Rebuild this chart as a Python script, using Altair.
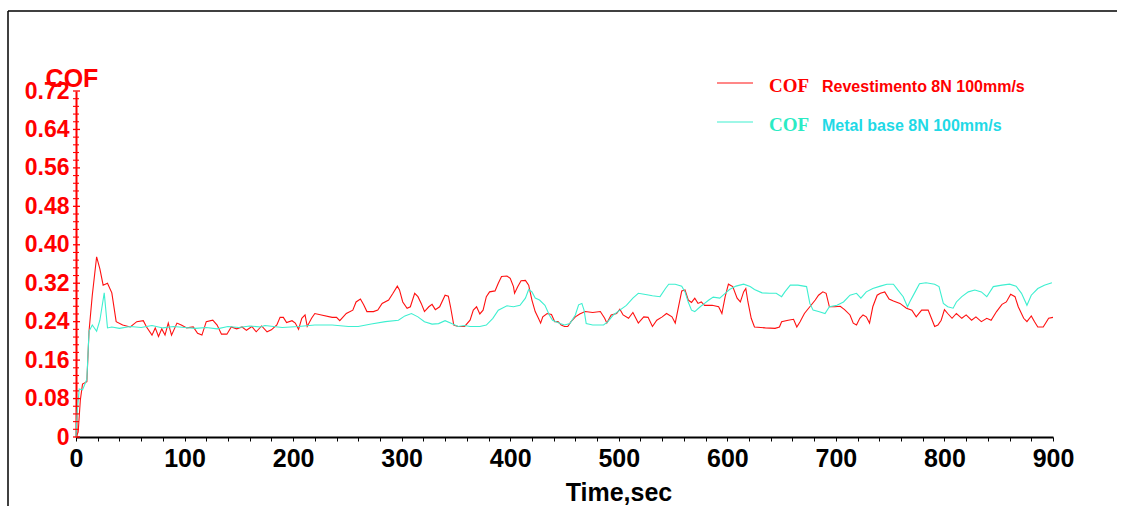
import altair as alt
import pandas as pd

# ---- data (time in s, COF) ----
red_points = [
    (0, 0.0), (2, 0.01), (4, 0.077), (6, 0.11), (10, 0.115), (12, 0.22), (15, 0.295), (19, 0.375),
    (22, 0.35), (25, 0.316), (29, 0.32), (33, 0.30), (37, 0.24), (43, 0.233), (50, 0.229), (56, 0.24),
    (62, 0.242), (65, 0.229), (70, 0.212), (73, 0.227), (76, 0.209), (79, 0.225), (82, 0.212), (85, 0.237),
    (88, 0.212), (93, 0.237), (97, 0.233), (102, 0.227), (108, 0.229), (112, 0.216), (116, 0.212), (120, 0.24),
    (126, 0.243), (130, 0.233), (134, 0.214), (139, 0.214), (143, 0.229), (148, 0.225), (153, 0.229), (157, 0.222),
    (162, 0.23), (166, 0.219), (171, 0.231), (176, 0.219), (180, 0.223), (185, 0.233), (188, 0.249), (191, 0.249),
    (194, 0.238), (199, 0.242), (202, 0.237), (205, 0.224), (208, 0.247), (211, 0.254), (213, 0.23), (217, 0.247),
    (220, 0.257), (226, 0.254), (236, 0.249), (240, 0.249), (243, 0.242), (249, 0.257), (255, 0.264), (258, 0.281),
    (262, 0.287), (265, 0.275), (268, 0.261), (274, 0.261), (278, 0.264), (282, 0.278), (288, 0.285), (292, 0.299),
    (296, 0.314), (298, 0.306), (301, 0.281), (305, 0.268), (308, 0.271), (312, 0.299), (315, 0.292), (318, 0.278),
    (321, 0.261), (325, 0.271), (328, 0.276), (331, 0.265), (335, 0.271), (340, 0.295), (343, 0.293), (345, 0.271),
    (348, 0.233), (352, 0.23), (358, 0.23), (363, 0.243), (366, 0.264), (369, 0.271), (372, 0.256), (375, 0.264),
    (378, 0.292), (381, 0.302), (386, 0.304), (389, 0.32), (392, 0.334), (397, 0.335), (400, 0.33), (403, 0.313),
    (404, 0.299), (407, 0.313), (410, 0.325), (414, 0.326), (417, 0.316), (420, 0.285), (423, 0.261), (426, 0.247),
    (428, 0.237), (430, 0.25), (434, 0.257), (438, 0.255), (441, 0.24), (444, 0.24), (447, 0.233), (450, 0.23),
    (453, 0.23), (456, 0.24), (460, 0.25), (464, 0.256), (469, 0.261), (476, 0.259), (483, 0.261), (487, 0.247),
    (489, 0.237), (493, 0.254), (498, 0.257), (501, 0.266), (504, 0.254), (509, 0.247), (513, 0.259), (518, 0.237),
    (523, 0.25), (527, 0.249), (531, 0.23), (535, 0.243), (540, 0.25), (544, 0.257), (549, 0.25), (552, 0.237),
    (555, 0.271), (558, 0.304), (561, 0.306), (564, 0.285), (567, 0.28), (570, 0.289), (573, 0.278), (576, 0.281),
    (579, 0.274), (586, 0.274), (592, 0.271), (595, 0.257), (598, 0.292), (601, 0.318), (605, 0.313), (609, 0.289),
    (612, 0.281), (615, 0.302), (617, 0.309), (619, 0.281), (622, 0.247), (625, 0.229), (635, 0.227), (644, 0.226),
    (648, 0.229), (650, 0.24), (656, 0.243), (661, 0.245), (664, 0.229), (667, 0.24), (671, 0.257), (676, 0.271),
    (681, 0.285), (684, 0.295), (688, 0.302), (691, 0.299), (694, 0.271), (699, 0.271), (704, 0.272), (708, 0.265),
    (713, 0.254), (716, 0.237), (719, 0.233), (722, 0.247), (725, 0.254), (728, 0.25), (731, 0.237), (734, 0.271),
    (738, 0.295), (741, 0.299), (745, 0.302), (749, 0.287), (753, 0.283), (759, 0.278), (765, 0.268), (770, 0.264),
    (774, 0.25), (779, 0.264), (785, 0.264), (788, 0.247), (791, 0.23), (794, 0.233), (797, 0.243), (800, 0.265),
    (803, 0.257), (807, 0.247), (811, 0.257), (816, 0.247), (820, 0.254), (825, 0.243), (829, 0.25), (834, 0.24),
    (839, 0.247), (843, 0.243), (848, 0.261), (853, 0.276), (857, 0.281), (861, 0.297), (865, 0.292), (868, 0.271),
    (873, 0.247), (876, 0.24), (880, 0.252), (883, 0.24), (886, 0.229), (891, 0.229), (896, 0.247), (900, 0.249),
]

cyan_points = [
    (0, 0.0), (1, 0.05), (3, 0.10), (6, 0.098), (10, 0.12), (12, 0.22), (15, 0.233), (19, 0.22),
    (22, 0.243), (26, 0.30), (29, 0.227), (33, 0.229), (40, 0.226), (50, 0.23), (60, 0.228), (70, 0.232),
    (80, 0.227), (90, 0.23), (100, 0.228), (110, 0.226), (120, 0.228), (130, 0.225), (140, 0.23), (150, 0.228),
    (160, 0.231), (170, 0.229), (174, 0.232), (190, 0.228), (205, 0.23), (220, 0.233), (236, 0.233), (251, 0.23),
    (260, 0.23), (272, 0.235), (285, 0.24), (297, 0.243), (303, 0.252), (309, 0.257), (315, 0.25), (321, 0.24),
    (328, 0.235), (334, 0.236), (340, 0.242), (346, 0.236), (352, 0.23), (358, 0.232), (363, 0.23), (372, 0.23),
    (378, 0.233), (384, 0.247), (389, 0.264), (397, 0.273), (403, 0.271), (409, 0.274), (414, 0.289), (417, 0.307),
    (420, 0.302), (423, 0.289), (427, 0.285), (432, 0.274), (436, 0.254), (439, 0.243), (446, 0.236), (450, 0.233),
    (455, 0.236), (460, 0.254), (463, 0.275), (466, 0.278), (468, 0.264), (470, 0.236), (476, 0.233), (486, 0.233),
    (490, 0.24), (495, 0.254), (501, 0.264), (507, 0.274), (513, 0.289), (518, 0.299), (526, 0.296), (531, 0.294),
    (538, 0.292), (543, 0.309), (546, 0.318), (552, 0.318), (558, 0.314), (561, 0.302), (564, 0.281), (567, 0.264),
    (570, 0.261), (575, 0.271), (579, 0.278), (583, 0.285), (587, 0.291), (593, 0.289), (598, 0.299), (602, 0.307),
    (608, 0.314), (615, 0.318), (621, 0.313), (625, 0.307), (632, 0.30), (639, 0.299), (645, 0.299), (650, 0.292),
    (653, 0.302), (658, 0.316), (665, 0.316), (673, 0.313), (676, 0.278), (679, 0.264), (684, 0.261), (690, 0.257),
    (694, 0.271), (701, 0.274), (707, 0.281), (713, 0.295), (719, 0.299), (723, 0.289), (728, 0.302), (734, 0.309),
    (741, 0.314), (747, 0.318), (753, 0.318), (757, 0.306), (762, 0.292), (766, 0.271), (768, 0.281), (773, 0.302),
    (777, 0.319), (783, 0.321), (791, 0.318), (795, 0.313), (799, 0.278), (803, 0.271), (808, 0.268), (811, 0.281),
    (816, 0.292), (822, 0.302), (828, 0.306), (834, 0.302), (839, 0.292), (845, 0.313), (853, 0.316), (860, 0.318),
    (866, 0.314), (871, 0.299), (876, 0.274), (880, 0.295), (886, 0.309), (892, 0.316), (899, 0.321),
]

series_names = ["Revestimento 8N 100mm/s", "Metal base 8N 100mm/s"]
series_colors = ["#FF1010", "#3EEFD0"]
legend_text_colors = ["#FF0000", "#1FD9E6"]
legend_cof_colors = ["#FF0000", "#2AEBC4"]

x_tick_values = list(range(0, 901, 20))
y_major_values = [0, 0.08, 0.16, 0.24, 0.32, 0.40, 0.48, 0.56, 0.64, 0.72]
y_minor_values = [round(i * 0.016, 3) for i in range(46) if i % 5 != 0]

W, H = 977, 346
RED = "#FF0000"
SANS = "Liberation Sans"

# ---- tables ----
rows = []
for name, pts in zip(series_names, [red_points, cyan_points]):
    for t, v in pts:
        rows.append({"t": t, "cof": v, "series": name})
lines_df = pd.DataFrame(rows)

x_enc = alt.X(
    "t:Q",
    scale=alt.Scale(domain=[0, 900], nice=False, zero=True),
    axis=alt.Axis(
        values=x_tick_values,
        labelExpr="datum.value % 100 == 0 ? datum.label : ''",
        format="d",
        title="",
        grid=False,
        domainColor="black",
        domainWidth=2,
        tickColor="black",
        tickSize=4,
        tickWidth=1,
        labelColor="black",
        labelFont=SANS,
        labelFontWeight="bold",
        labelFontSize=25,
        labelPadding=5,
        labelOverlap=False,
        labelFlush=False,
    ),
)

y_enc = alt.Y(
    "cof:Q",
    scale=alt.Scale(domain=[0, 0.72], nice=False, zero=True),
    axis=alt.Axis(
        values=y_major_values,
        labelExpr="datum.value == 0 ? '0' : format(datum.value, '.2f')",
        title="",
        grid=False,
        ticks=False,
        tickSize=0,
        domainColor=RED,
        domainWidth=2,
        labelColor=RED,
        labelFont=SANS,
        labelFontWeight="bold",
        labelFontSize=23,
        labelPadding=7,
        labelOverlap=False,
        labelFlush=False,
    ),
)

lines = alt.Chart(lines_df).mark_line(strokeWidth=1.1).encode(
    x=x_enc,
    y=y_enc,
    color=alt.Color("series:N", scale=alt.Scale(domain=series_names, range=series_colors), legend=None),
    order="t:Q",
)

major_ticks = alt.Chart(pd.DataFrame({"cof": y_major_values})).mark_rule(color=RED, strokeWidth=1.3).encode(
    y=y_enc, x=alt.value(-3), x2=alt.value(4)
)
minor_ticks = alt.Chart(pd.DataFrame({"cof": y_minor_values})).mark_rule(color=RED, strokeWidth=1.1).encode(
    y=y_enc, x=alt.value(-3), x2=alt.value(3)
)


def ptext(text, x, y, color, font, size, weight="normal", align="left"):
    return alt.Chart(pd.DataFrame({"txt": [text]})).mark_text(
        align=align, baseline="alphabetic", color=color, font=font, fontSize=size, fontWeight=weight
    ).encode(x=alt.value(x), y=alt.value(y), text="txt:N")


def prule(x1, x2, y1, y2, color, width=1.0):
    return alt.Chart(pd.DataFrame({"k": [0]})).mark_rule(color=color, strokeWidth=width).encode(
        x=alt.value(x1), x2=alt.value(x2), y=alt.value(y1), y2=alt.value(y2)
    )


layers = [lines, major_ticks, minor_ticks]

# axis titles
layers.append(ptext("COF", -4, -4, RED, SANS, 25, "bold", "center"))
layers.append(ptext("Time,sec", 543, 410, "black", SANS, 25, "bold", "center"))

# legend
legend_rows_y = [-8, 31]
for i, name in enumerate(series_names):
    ly = legend_rows_y[i]
    layers.append(prule(641, 677, ly, ly, series_colors[i], 1.1))
    layers.append(ptext("COF", 693, ly + 9, legend_cof_colors[i], "Liberation Serif", 19, "bold"))
    layers.append(ptext(name, 746, ly + 9, legend_text_colors[i], SANS, 16, "bold"))

# outer frame (top and left edges)
layers.append(prule(-68, 1041, -80, -80, "black", 1.5))
layers.append(prule(-68, -68, -80, 420, "black", 1.5))

chart = alt.layer(*layers).properties(
    width=W,
    height=H,
    padding={"left": 76, "top": 91, "right": 79, "bottom": 69},
    autosize=alt.AutoSizeParams(type="none"),
    background="white",
).configure_view(stroke="transparent")

chart.save("out.html", embed_options={"renderer": "svg", "actions": False})
